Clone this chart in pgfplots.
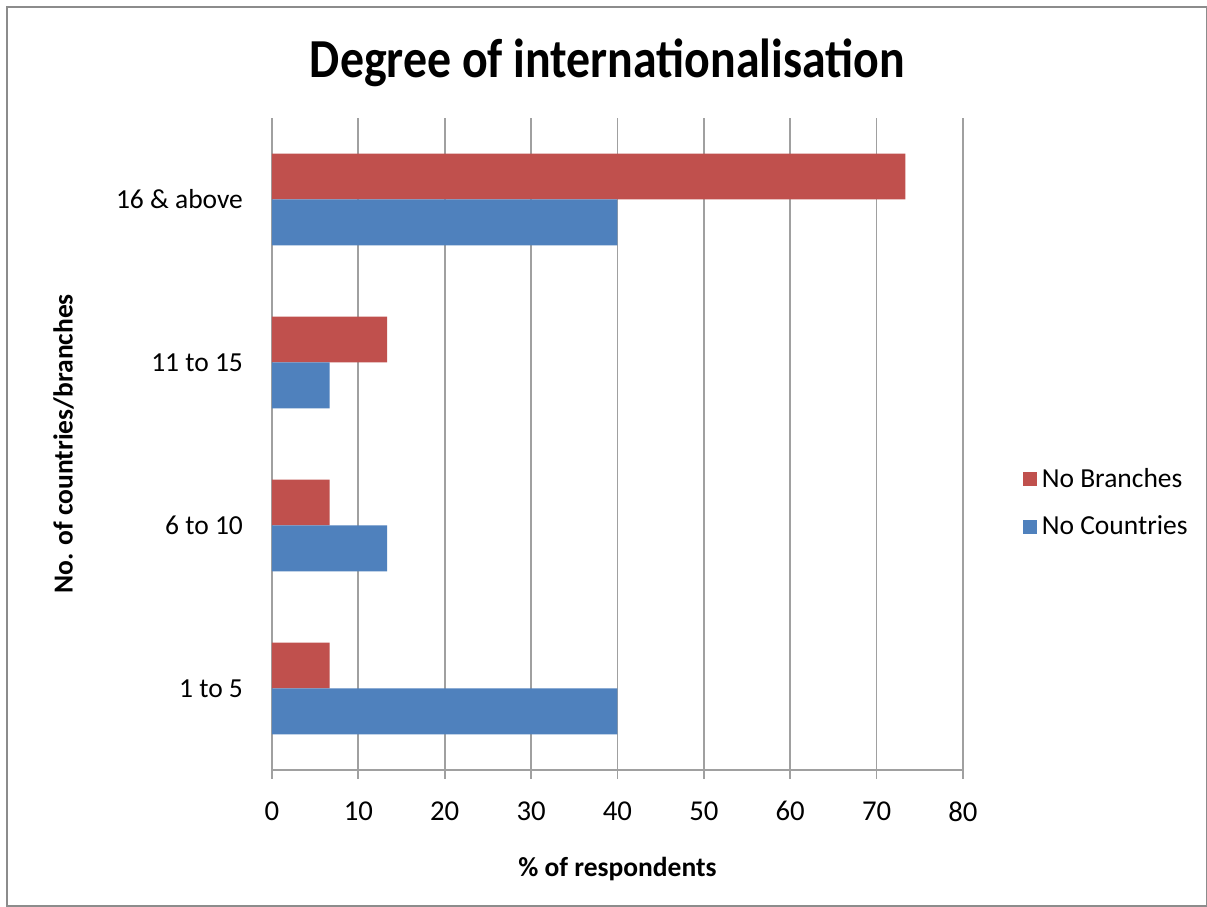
\documentclass[border=0pt]{standalone}
\usepackage{pgfplots}
\pgfplotsset{compat=1.18}
\usepackage{fontspec}
\setmainfont{Carlito}

\definecolor{branchred}{HTML}{C0504D}
\definecolor{countryblue}{HTML}{4F81BD}
\definecolor{gridgray}{HTML}{A0A0A0}
\definecolor{framegray}{HTML}{8C8C8C}

\begin{document}
\begin{tikzpicture}
% canvas: 1 px = 0.4pt
\useasboundingbox (0,0) rectangle (482.8pt,-362.8pt);
\fill[white] (0,0) rectangle (482.8pt,-362.8pt);
\draw[framegray, line width=0.6pt] (2.8pt,-2.8pt) rectangle (482.5pt,-362.5pt);

\node[font=\bfseries\fontsize{22}{26}\selectfont, anchor=center, xscale=0.87] at (243pt,-25pt) {Degree of internationalisation};

\begin{axis}[
  at={(108.8pt,-308pt)}, anchor=south west,
  scale only axis,
  width=276.4pt, height=260.8pt,
  xbar, bar width=0.282,
  xmin=0, xmax=80, xtick={0,10,...,80},
  ymin=-0.5, ymax=3.5,
  ytick={0,1,2,3},
  yticklabels={1 to 5, 6 to 10, 11 to 15, 16 \& above},
  axis x line*=bottom, axis y line*=left,
  axis line style={gridgray, line width=0.8pt},
  xmajorgrids,
  major grid style={gridgray, line width=0.7pt},
  x tick style={gridgray, line width=0.7pt},
  tick align=outside, major tick length=3.6pt,
  y tick style={draw=none},
  /pgf/number format/assume math mode=true,
  xticklabel style={font=\fontsize{11.5}{13}\selectfont, text=black, yshift=-5.5pt},
  yticklabel style={font=\fontsize{11}{13}\selectfont, text=black, xshift=-4.5pt},
  xlabel={\% of respondents},
  ylabel={No. of countries/branches},
  label style={font=\bfseries\fontsize{11}{13}\selectfont},
  xlabel style={yshift=-7.5pt},
  ylabel style={yshift=10pt},
  legend style={at={(1.075,0.409)}, anchor=west, draw=none, fill=none,
    font=\fontsize{11}{13}\selectfont, row sep=6pt},
  legend cell align=left,
  legend image code/.code={\fill[#1] (0pt,-2.8pt) rectangle (5.6pt,2.8pt);},
]
\addplot[fill=branchred, draw=none, bar shift=0.141] coordinates {
  (6.67,0) (6.67,1) (13.33,2) (73.33,3)};
\addlegendentry{No Branches}
\addplot[fill=countryblue, draw=none, bar shift=-0.141] coordinates {
  (40,0) (13.33,1) (6.67,2) (40,3)};
\addlegendentry{No Countries}
\end{axis}
\end{tikzpicture}
\end{document}
